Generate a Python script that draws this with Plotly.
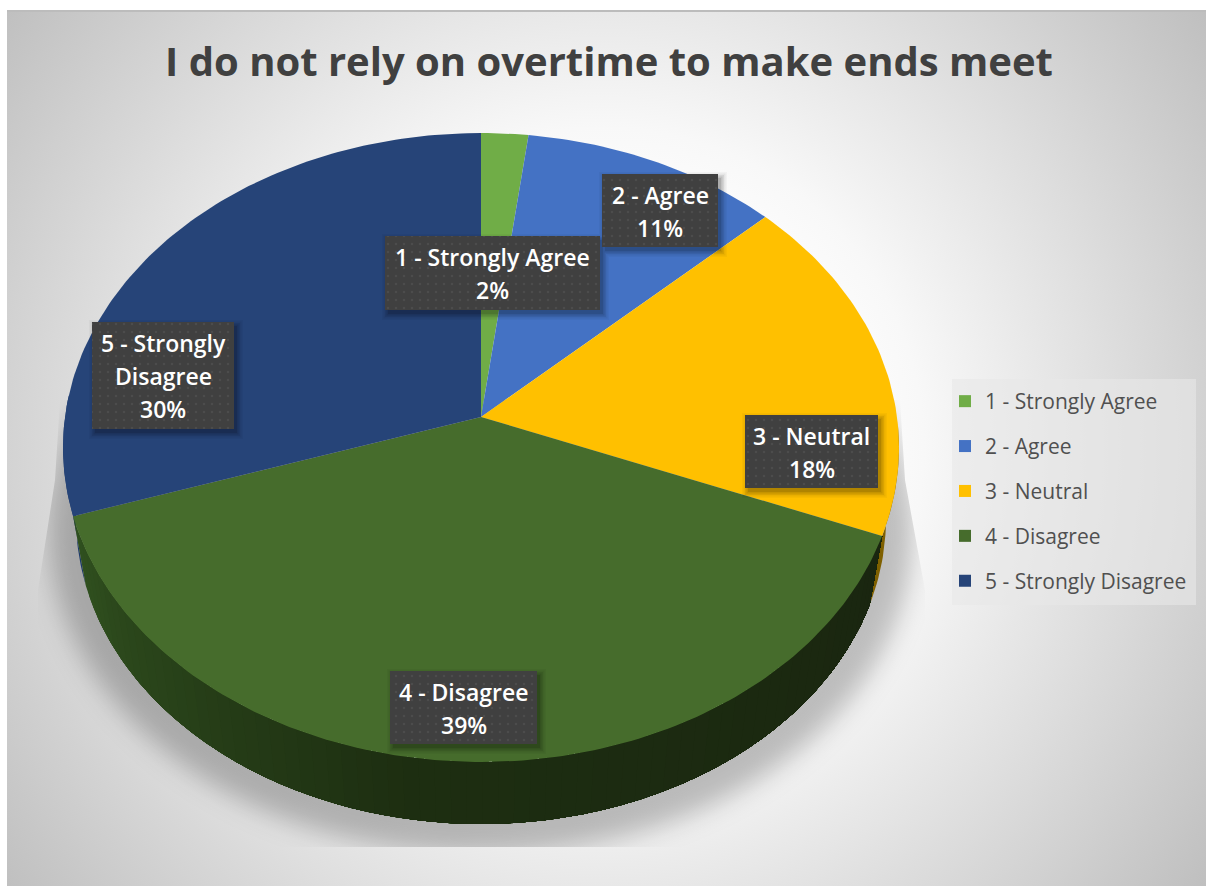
import base64
import math

import plotly.graph_objects as go

# Survey answers
categories = ["1 - Strongly Agree", "2 - Agree", "3 - Neutral", "4 - Disagree", "5 - Strongly Disagree"]
percents = [2, 11, 18, 39, 30]
title_text = "I do not rely on overtime to make ends meet"

top_colors = ["#70AD47", "#4472C4", "#FFC000", "#466C2C", "#264478"]
side_colors = ["#3f6127", "#2a4a80", "#7f6000", "#1b2a10", "#1d3a6b"]

W, H = 1206, 886
FONT = "Open Sans"

# Pie geometry in pixels: perspective view of a disc, plus the lower rim of its edge
CX, CY = 481.0, 417.0
A, B, K = 416.0, 311.5, 0.097
ELL_CY, ELL_RY, ELL_RX = 447.5, 314.5, 418.0
LOW_CY, LOW_RY, LOW_RX = 519.0, 305.0, 405.0


def rim(deg):
    t = math.radians(deg)
    d = 1 + K * math.cos(t)
    return CX + A * math.sin(t) / d, CY - B * math.cos(t) / d


def low_rim(deg):
    x, y = rim(deg)
    return CX + (x - CX) * LOW_RX / ELL_RX, LOW_CY + (y - ELL_CY) * LOW_RY / ELL_RY


def arc(a0, a1, fn=rim, step=1.0):
    n = max(2, int(abs(a1 - a0) / step) + 1)
    return [fn(a0 + (a1 - a0) * i / (n - 1)) for i in range(n)]


def poly_trace(points, color, **kw):
    xs, ys = zip(*points)
    return go.Scatter(x=list(xs), y=list(ys), mode="lines", fill="toself", fillcolor=color,
                      line=dict(width=0, color=color), showlegend=False, hoverinfo="skip", **kw)


def side_poly(a0, a1):
    return arc(a0, a1) + arc(a1, a0, low_rim)


def mix(c0, c1, f):
    a = [int(c0[i:i + 2], 16) for i in (1, 3, 5)]
    b = [int(c1[i:i + 2], 16) for i in (1, 3, 5)]
    return "#%02x%02x%02x" % tuple(round(p + (q - p) * f) for p, q in zip(a, b))


edges = [0.0]
for p in percents:
    edges.append(edges[-1] + p * 360.0 / sum(percents))

fig = go.Figure()

# Visible part of the edge: navy and amber slivers first, then the shaded green band
fig.add_trace(poly_trace(side_poly(edges[4], edges[4] + 22), side_colors[4]))
fig.add_trace(poly_trace(side_poly(edges[3] - 20, edges[3]), side_colors[2]))
green_start, green_end = edges[3], edges[4]
BANDS = 70
for i in range(BANDS):
    f = i / (BANDS - 1)
    a = green_end - (green_end - green_start) * i / BANDS
    if f < 0.45:
        c = mix("#30501f", "#1d2e11", f / 0.45)
    else:
        c = mix("#1d2e11", "#1a2610", (f - 0.45) / 0.55)
    fig.add_trace(poly_trace(side_poly(green_start, a), c))

# Top face of the pie
for i, name in enumerate(categories):
    fig.add_trace(poly_trace([(CX, CY)] + arc(edges[i], edges[i + 1]) + [(CX, CY)], top_colors[i]))

# Legend entries
for i, name in enumerate(categories):
    fig.add_trace(go.Scatter(x=[None], y=[None], mode="markers", name=name, legendgroup=name,
                             marker=dict(symbol="square", size=15, color=top_colors[i]), hoverinfo="skip"))

# Data label boxes, in pixels: left, right, top, bottom
label_boxes = [(385, 600, 236, 310), (602, 718, 174, 247), (745, 878, 415, 488),
               (390, 537, 671, 744), (92, 234, 322, 429)]
label_lines = [["1 - Strongly Agree"], ["2 - Agree"], ["3 - Neutral"], ["4 - Disagree"],
               ["5 - Strongly", "Disagree"]]


def rect_path(grow=0.0, dx=0.0, dy=0.0):
    xs, ys = [], []
    for l, r, t, b in label_boxes:
        xs += [l - grow + dx, r + grow + dx, r + grow + dx, l - grow + dx, l - grow + dx, None]
        ys += [t - grow + dy, t - grow + dy, b + grow + dy, b + grow + dy, t - grow + dy, None]
    return xs, ys


for grow, alpha in [(6, 0.03), (4.5, 0.05), (3, 0.07), (1.5, 0.09), (0, 0.1)]:
    xs, ys = rect_path(grow, 3, 4)
    fig.add_trace(go.Scatter(x=xs, y=ys, mode="lines", fill="toself", fillcolor=f"rgba(0,0,0,{alpha})",
                             line=dict(width=0), showlegend=False, hoverinfo="skip"))
xs, ys = rect_path()
fig.add_trace(go.Scatter(x=xs, y=ys, mode="lines", fill="toself", fillcolor="#404040",
                         fillpattern=dict(shape=".", size=8, solidity=0.07, fgcolor="#585858", bgcolor="#404040"),
                         line=dict(width=0), showlegend=False, hoverinfo="skip"))

annotations = []
LINE_STEP = 33
for box, lines, pct in zip(label_boxes, label_lines, percents):
    rows = lines + [f"{pct}%"]
    mid = (box[2] + box[3]) / 2 + 0.7
    for j, row in enumerate(rows):
        annotations.append(dict(x=(box[0] + box[1]) / 2, y=mid + (j - (len(rows) - 1) / 2) * LINE_STEP,
                                xref="x", yref="y", text=row, showarrow=False, xanchor="center", yanchor="middle",
                                font=dict(family=FONT, size=23, color="white", weight=600)))

# Chart area backdrop: radial fill with the soft shadow the pie throws
backdrop = f"""<svg xmlns="http://www.w3.org/2000/svg" width="{W}" height="{H}" viewBox="0 0 {W} {H}">
<defs>
<radialGradient id="g" gradientUnits="userSpaceOnUse" cx="603" cy="448" r="745">
<stop offset="0" stop-color="#ffffff"/><stop offset="0.3" stop-color="#ffffff"/>
<stop offset="0.43" stop-color="#f8f8f8"/><stop offset="0.59" stop-color="#e8e8e8"/>
<stop offset="0.8" stop-color="#d3d3d3"/><stop offset="1" stop-color="#bfbfbf"/>
</radialGradient>
<filter id="b" x="-20%" y="-20%" width="140%" height="140%"><feGaussianBlur stdDeviation="13"/></filter>
<clipPath id="c"><polygon points="60,400 55,480 38,590 38,847 925,847 925,590 905,480 900,400"/></clipPath>
</defs>
<rect width="{W}" height="{H}" fill="#ffffff"/>
<rect x="7" y="10" width="{W - 7}" height="{H - 10}" fill="url(#g)"/>
<rect x="7" y="10" width="{W - 7}" height="2" fill="#bcbcbc"/>
<g clip-path="url(#c)"><ellipse cx="481" cy="530" rx="432" ry="324" fill="#000000" fill-opacity="0.24" filter="url(#b)"/></g>
</svg>"""
backdrop_uri = "data:image/svg+xml;base64," + base64.b64encode(backdrop.encode()).decode()

# Legend panel
legend_panel = dict(type="rect", xref="x", yref="y", x0=952, x1=1196, y0=379, y1=605,
                    fillcolor="rgba(232,232,232,0.6)", line=dict(width=0), layer="below")

fig.update_layout(
    width=W, height=H, margin=dict(l=0, r=0, t=0, b=0), paper_bgcolor="white", plot_bgcolor="rgba(0,0,0,0)",
    xaxis=dict(range=[0, W], visible=False, fixedrange=True),
    yaxis=dict(range=[H, 0], visible=False, fixedrange=True),
    title=dict(text=title_text, x=609 / W, xanchor="center", y=1 - 62 / H, yanchor="middle",
               font=dict(family=FONT, size=40, color="#404040", weight=700)),
    images=[dict(source=backdrop_uri, xref="paper", yref="paper", x=0, y=1, sizex=1, sizey=1,
                 sizing="stretch", layer="below", xanchor="left", yanchor="top")],
    shapes=[legend_panel],
    annotations=annotations,
    legend=dict(x=945 / W, y=1 - 381 / H, xanchor="left", yanchor="top", bgcolor="rgba(0,0,0,0)",
                font=dict(family=FONT, size=21, color="#505050"), tracegroupgap=14.6, itemsizing="constant",
                traceorder="grouped"),
    showlegend=True,
)

fig.write_html("out.html", config=dict(displayModeBar=False))
